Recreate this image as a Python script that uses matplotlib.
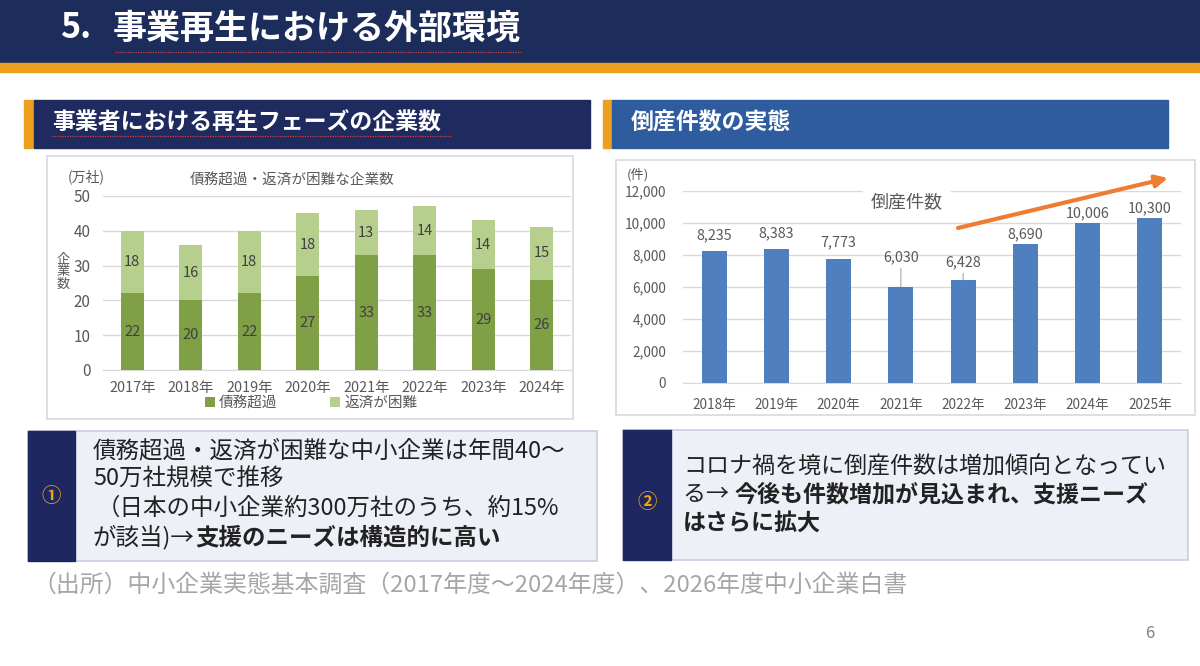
import matplotlib
matplotlib.use('Agg')
import matplotlib.pyplot as plt
from matplotlib.patches import Rectangle
from matplotlib.ticker import FuncFormatter
import numpy as np

plt.rcParams['font.family'] = ['Noto Sans CJK JP', 'DejaVu Sans']

# left chart: 債務超過・返済が困難な企業数 (万社)
years_left = ['2017年', '2018年', '2019年', '2020年', '2021年', '2022年', '2023年', '2024年']
insolvent = [22, 20, 22, 27, 33, 33, 29, 26]
hard_to_repay = [18, 16, 18, 18, 13, 14, 14, 15]

# right chart: 倒産件数
years_right = ['2018年', '2019年', '2020年', '2021年', '2022年', '2023年', '2024年', '2025年']
bankruptcies = [8235, 8383, 7773, 6030, 6428, 8690, 10006, 10300]

W, H = 1200, 666
NAVY = '#1c2d5b'
ORANGE = '#eba11f'
GRID = '#d9d9d9'
TICK = '#595959'
DARK_GREEN = '#80a046'
LIGHT_GREEN = '#b6cf8d'
BLUE = '#4f7fbe'

fig = plt.figure(figsize=(12, 6.66), dpi=100)
fig.patch.set_facecolor('white')


def overlay(z):
    ax = fig.add_axes([0, 0, 1, 1], zorder=z)
    ax.set_xlim(0, W)
    ax.set_ylim(H, 0)
    ax.axis('off')
    return ax


def px_axes(x0, y0, x1, y1, z=5):
    ax = fig.add_axes([x0 / W, 1 - y1 / H, (x1 - x0) / W, (y1 - y0) / H], zorder=z)
    ax.patch.set_alpha(0)
    return ax


def text_runs(ax, x, y, parts, size, color):
    r = fig.canvas.get_renderer()
    for s, w in parts:
        t = ax.text(x, y, s, fontsize=size, fontweight=w, color=color, va='center', ha='left')
        x += t.get_window_extent(renderer=r).width


bg = overlay(0)
fg = overlay(10)

# title bar
bg.add_patch(Rectangle((0, 0), W, 63, color=NAVY))
bg.add_patch(Rectangle((0, 63), W, 9, color=ORANGE))
bg.text(60, 28, '5.', color='white', fontsize=24.5, fontweight='bold', va='center')
bg.text(113, 28, '事業再生における外部環境', color='white', fontsize=24.5, fontweight='bold', va='center')
bg.plot([115, 521], [52, 52], color='#d04040', lw=0.9, ls=(0, (1, 1)))

# section headers
bg.add_patch(Rectangle((24, 100), 10, 48, color=ORANGE))
bg.add_patch(Rectangle((34, 100), 556, 48, color='#1f2a5e'))
bg.text(52, 123, '事業者における再生フェーズの企業数', color='white', fontsize=16.5,
        fontweight='bold', va='center')
bg.plot([52, 452], [136, 136], color='#d04040', lw=0.9, ls=(0, (1, 1)))
bg.add_patch(Rectangle((603, 100), 9, 48, color=ORANGE))
bg.add_patch(Rectangle((612, 100), 556, 48, color='#2e5c9e'))
bg.text(631, 123, '倒産件数の実態', color='white', fontsize=16.5, fontweight='bold', va='center')

# chart frames
bg.add_patch(Rectangle((47, 156), 526, 263, fc='white', ec=GRID, lw=1.2))
bg.add_patch(Rectangle((616, 160), 579, 255, fc='white', ec=GRID, lw=1.2))

# ---- left chart ----
ax1 = px_axes(103, 196, 571, 370)
x = np.arange(len(years_left))
b1 = ax1.bar(x, insolvent, width=0.39, color=DARK_GREEN, label='債務超過', zorder=3)
b2 = ax1.bar(x, hard_to_repay, width=0.39, bottom=insolvent, color=LIGHT_GREEN,
             label='返済が困難', zorder=3)
ax1.bar_label(b1, label_type='center', fontsize=10.5, color='#404040')
ax1.bar_label(b2, label_type='center', fontsize=10.5, color='#404040')
ax1.set_xlim(-0.5, len(years_left) - 0.5)
ax1.set_ylim(0, 50)
ax1.set_yticks(range(0, 51, 10))
ax1.set_xticks(x)
ax1.set_xticklabels(years_left)
ax1.yaxis.grid(True, color=GRID, lw=1)
ax1.set_axisbelow(True)
for s in ['top', 'right', 'left']:
    ax1.spines[s].set_visible(False)
ax1.spines['bottom'].set_color(GRID)
ax1.tick_params(axis='both', length=0, colors=TICK)
ax1.tick_params(axis='x', pad=8, labelsize=10.4)
ax1.tick_params(axis='y', pad=9, labelsize=11)
ax1.legend(loc='center', bbox_to_anchor=(0.445, -0.19), ncol=2, frameon=False,
           fontsize=10.5, handlelength=0.7, handleheight=0.7, handletextpad=0.3,
           columnspacing=3.6, labelcolor=TICK)
bg.text(86, 177, '(万社)', fontsize=10, color=TICK, ha='center', va='center')
bg.text(292, 181, '債務超過・返済が困難な企業数', fontsize=10.5, color=TICK, ha='center', va='center')
bg.text(63, 272, '企\n業\n数', fontsize=9.5, color=TICK, ha='center', va='center', linespacing=0.95)

# ---- right chart ----
ax2 = px_axes(683, 191, 1181, 383)
x2 = np.arange(len(years_right))
bars = ax2.bar(x2, bankruptcies, width=0.4, color=BLUE, zorder=3)
ax2.set_xlim(-0.5, len(years_right) - 0.5)
ax2.set_ylim(0, 12000)
ax2.set_yticks(range(0, 12001, 2000))
ax2.yaxis.set_major_formatter(FuncFormatter(lambda v, p: f'{int(v):,}'))
ax2.set_xticks(x2)
ax2.set_xticklabels(years_right)
ax2.yaxis.grid(True, color=GRID, lw=1)
ax2.set_axisbelow(True)
for s in ['top', 'right', 'left']:
    ax2.spines[s].set_visible(False)
ax2.spines['bottom'].set_color(GRID)
ax2.tick_params(axis='both', length=0, labelsize=9.8, colors=TICK)
ax2.tick_params(axis='x', pad=11)
ax2.tick_params(axis='y', pad=12)
label_lift = [11.5, 11.5, 11.5, 21, 13, 7, 7, 7]
for xi, v, lift in zip(x2, bankruptcies, label_lift):
    leader = dict(arrowstyle='-', color='#a6a6a6', lw=0.8, shrinkA=1, shrinkB=0) if lift > 12 else None
    ax2.annotate(f'{v:,}', xy=(xi, v), xytext=(0, lift), textcoords='offset points',
                 ha='center', va='center', fontsize=10.3, color=TICK, arrowprops=leader)
bg.text(638, 175, '(件)', fontsize=9.5, color=TICK, ha='center', va='center')
fg.text(907, 203, '倒産件数', fontsize=13, color=TICK, ha='center', va='center',
        bbox=dict(fc='white', ec='none', pad=6))
fg.annotate('', xy=(1168, 178), xytext=(958, 228),
            arrowprops=dict(arrowstyle='-|>', color='#ed7d31', lw=3, mutation_scale=18,
                            shrinkA=0, shrinkB=0))

# ---- comment boxes ----
TXT = '#222222'
FS = 16.9
bg.add_patch(Rectangle((28, 431), 569, 130, fc='#eef0f8', ec='#c9cde3', lw=1.2))
bg.add_patch(Rectangle((28, 431), 47, 130, color='#1e2760'))
bg.text(51, 496, '①', fontsize=14, color='#e8a317', ha='center', va='center', fontweight='bold')
text_runs(bg, 93, 451, [('債務超過・返済が困難な中小企業は年間40～', 'normal')], FS, TXT)
text_runs(bg, 93, 479, [('50万社規模で推移', 'normal')], FS, TXT)
text_runs(bg, 97, 508, [('（日本の中小企業約300万社のうち、約15%', 'normal')], FS, TXT)
text_runs(bg, 93, 537, [('が該当)→', 'normal'), ('支援のニーズは構造的に高い', 'bold')], FS, TXT)

bg.add_patch(Rectangle((623, 430), 565, 130, fc='#eef0f8', ec='#c9cde3', lw=1.2))
bg.add_patch(Rectangle((623, 430), 48, 130, color='#1e2760'))
bg.text(647, 503, '②', fontsize=14, color='#e8a317', ha='center', va='center', fontweight='bold')
text_runs(bg, 683, 467, [('コロナ禍を境に倒産件数は増加傾向となってい', 'normal')], 16.6, TXT)
text_runs(bg, 683, 495, [('る→ ', 'normal'), ('今後も件数増加が見込まれ、支援ニーズ', 'bold')], 16.6, TXT)
text_runs(bg, 683, 523, [('はさらに拡大', 'bold')], 16.6, TXT)

bg.text(32, 585, '（出所）中小企業実態基本調査（2017年度～2024年度）、2026年度中小企業白書',
        fontsize=17.2, color='#a6a6a6', va='center')
bg.text(1150, 633, '6', fontsize=12, color='#7f7f7f', ha='center', va='center')

fig.savefig('out.png', dpi=100)
